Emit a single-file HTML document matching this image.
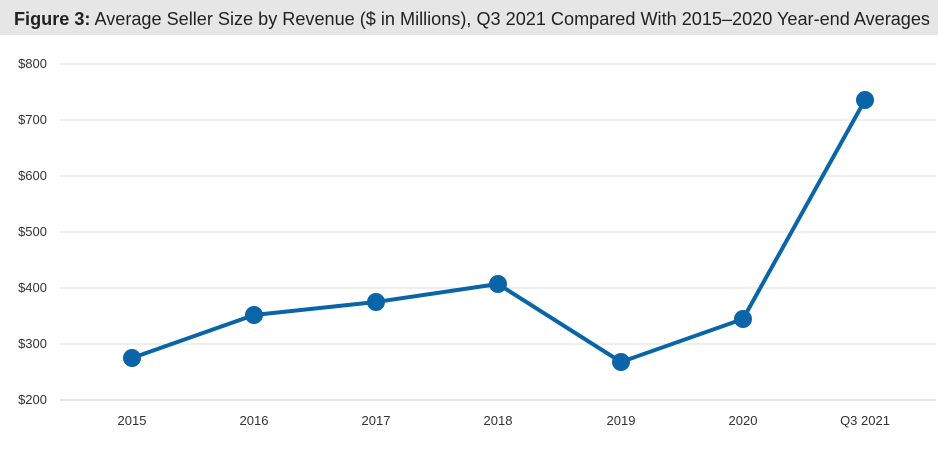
<!DOCTYPE html>
<html><head><meta charset="utf-8"><style>
body{margin:0;background:#fff;width:938px;height:445px;overflow:hidden;font-family:"Liberation Sans",sans-serif}
</style></head><body>
<svg width="938" height="445" xmlns="http://www.w3.org/2000/svg" font-family="Liberation Sans, sans-serif">
<rect x="0" y="0" width="938" height="35" fill="#e6e6e7"/>
<text x="14" y="25" font-size="18" fill="#222" textLength="916" lengthAdjust="spacingAndGlyphs"><tspan font-weight="bold">Figure 3:</tspan>  Average Seller Size by Revenue ($ in Millions), Q3 2021 Compared With 2015–2020 Year-end Averages</text>
<g stroke="#dcdcdc" stroke-width="1">
<line x1="60" x2="936" y1="64" y2="64"/><line x1="60" x2="936" y1="120" y2="120"/>
<line x1="60" x2="936" y1="176" y2="176"/><line x1="60" x2="936" y1="232" y2="232"/>
<line x1="60" x2="936" y1="288" y2="288"/><line x1="60" x2="936" y1="344" y2="344"/>
<line x1="60" x2="936" y1="400" y2="400" stroke="#c8c8c8"/>
</g>
<g font-size="13" fill="#333" text-anchor="end">
<text x="47" y="68">$800</text><text x="47" y="124">$700</text><text x="47" y="180">$600</text>
<text x="47" y="236">$500</text><text x="47" y="292">$400</text><text x="47" y="348">$300</text><text x="47" y="404">$200</text>
</g>
<g font-size="13" fill="#333" text-anchor="middle">
<text x="132" y="425">2015</text><text x="254" y="425">2016</text><text x="376" y="425">2017</text>
<text x="498" y="425">2018</text><text x="621" y="425">2019</text><text x="743" y="425">2020</text><text x="865" y="425">Q3 2021</text>
</g>
<polyline points="132,358 254,315 376,302 498,284 621,362 743,319 865,100" fill="none" stroke="#0a64a8" stroke-width="4" stroke-linejoin="round"/>
<g fill="#0a64a8">
<circle cx="132" cy="358" r="9"/><circle cx="254" cy="315" r="9"/><circle cx="376" cy="302" r="9"/>
<circle cx="498" cy="284" r="9"/><circle cx="621" cy="362" r="9"/><circle cx="743" cy="319" r="9"/><circle cx="865" cy="100" r="9"/>
</g>
</svg>
</body></html>
